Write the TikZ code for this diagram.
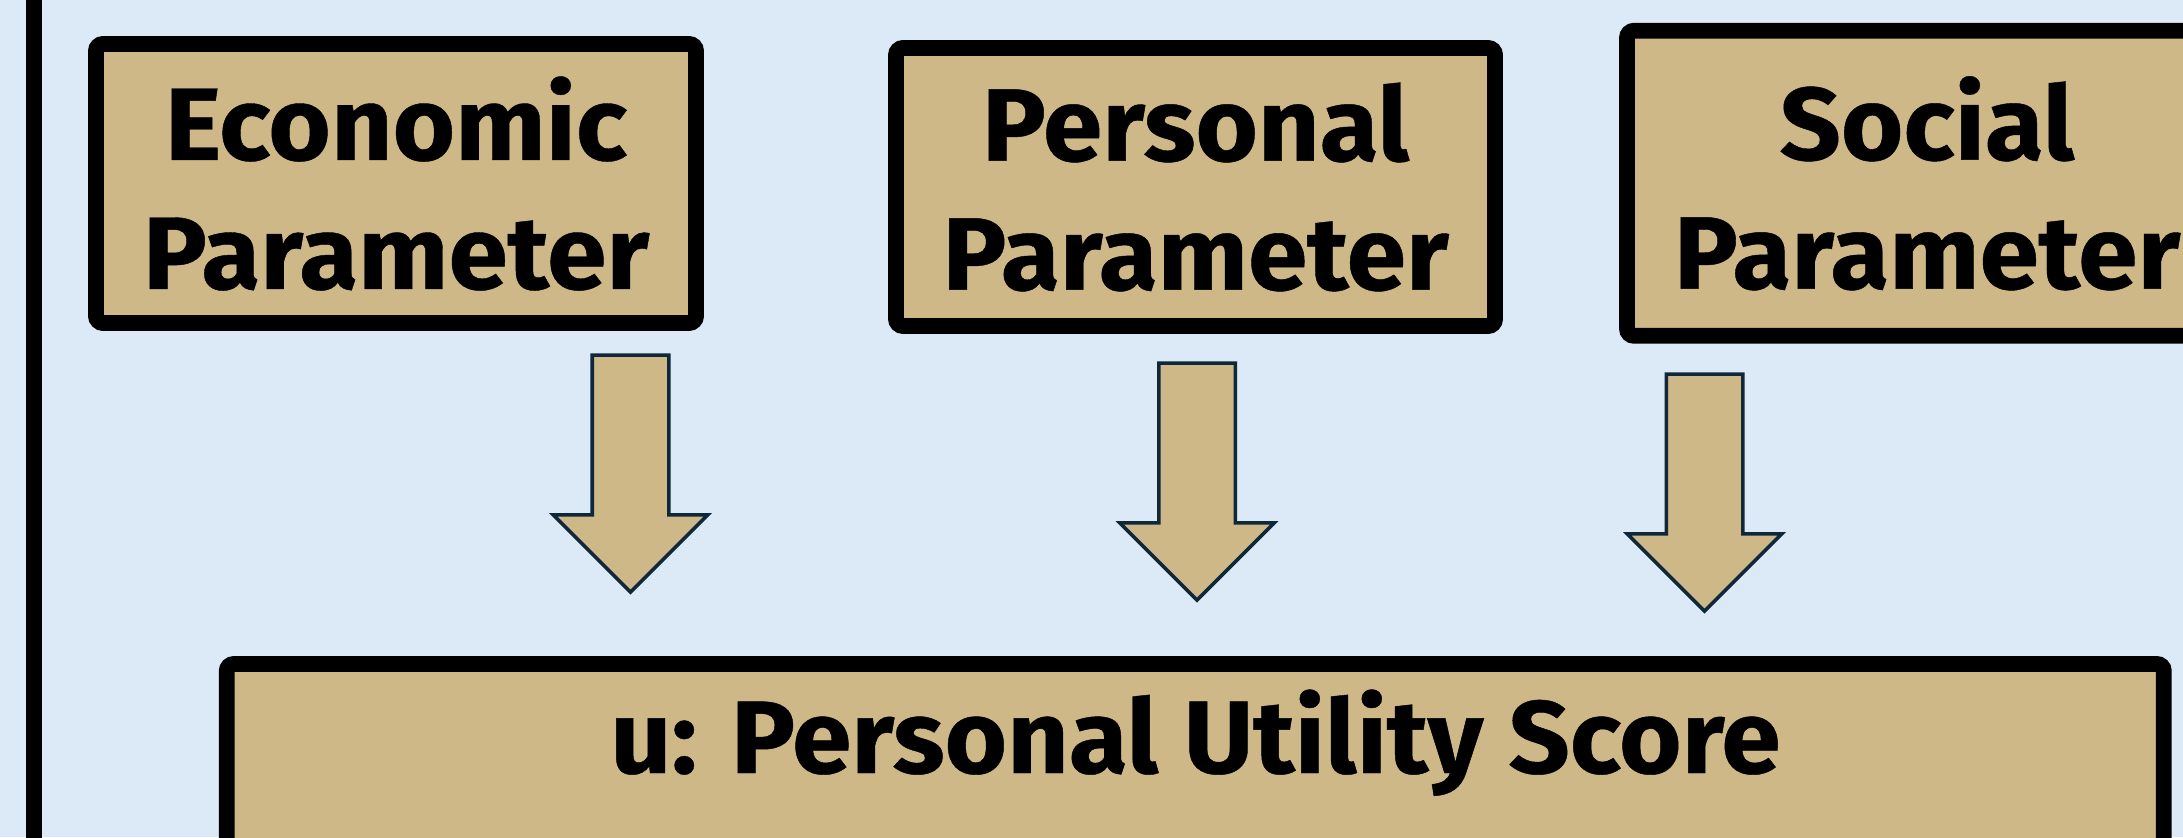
\documentclass[tikz,border=0pt]{standalone}
\usepackage{fontspec}
\setmainfont{Fira Sans}[FakeStretch=1.04, FakeBold=0.4]
\usetikzlibrary{shapes.arrows}
\definecolor{bgblue}{RGB}{220,234,247}
\definecolor{boxtan}{RGB}{206,184,136}
\definecolor{arrowline}{RGB}{14,40,58}
\tikzset{
  parambox/.style={draw=black, line width=4.5pt, fill=boxtan, rounded corners=2pt,
    inner sep=0pt, align=center, font=\fontsize{29.3pt}{36.7pt}\selectfont\bfseries},
  downarrow/.style={single arrow, draw=arrowline, line width=1pt, fill=boxtan,
    rotate=-90, inner xsep=0pt, inner ysep=0.365cm, minimum height=2.37cm,
    minimum width=1.51cm, single arrow head extend=0.39cm}
}
\begin{document}
\begin{tikzpicture}
\useasboundingbox (0,0) rectangle (21.83,8.37);
\clip (0,0) rectangle (21.83,8.37);
\fill[bgblue] (0,0) rectangle (21.83,8.37);
\draw[line width=4.5pt] (0.34,-0.2) -- (0.34,8.6);
% parameter boxes
\node[parambox, minimum width=6cm, minimum height=2.79cm] (econ) at (3.96,6.535) {Economic\\Parameter};
\node[parambox, minimum width=5.99cm, minimum height=2.78cm] (pers) at (11.955,6.5) {Personal\\Parameter};
\node[parambox, minimum width=6cm, minimum height=3.05cm] (soc) at (19.27,6.537) {Social\\Parameter};
% block arrows
\node[downarrow] (arrE) at (6.305,3.825) {};
\node[downarrow] (arrP) at (11.97,3.745) {};
\node[downarrow] (arrS) at (17.045,3.635) {};
% utility box
\node[parambox, anchor=base, minimum width=19.37cm, text height=1.09cm, text depth=1.2cm] (util) at (11.953,0.64) {u: Personal Utility Score};
\end{tikzpicture}
\end{document}
